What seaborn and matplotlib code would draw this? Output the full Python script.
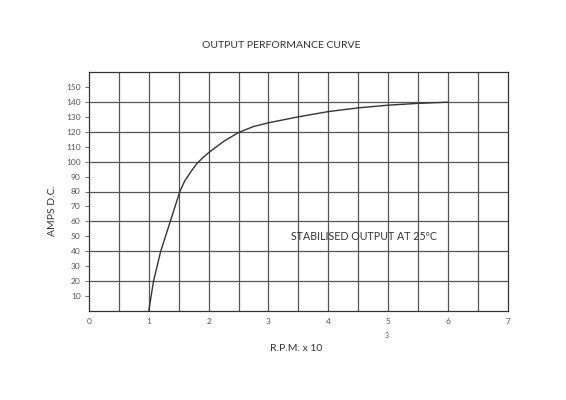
import matplotlib
matplotlib.use("Agg")
import matplotlib.pyplot as plt
import seaborn as sns
import pandas as pd
import numpy as np

# values
rpm = [1.0, 1.04, 1.08, 1.2, 1.36, 1.44, 1.52, 1.6, 1.7, 1.8, 1.9, 2.0, 2.1, 2.25,
       2.5, 2.75, 3.0, 3.5, 4.0, 4.5, 5.0, 5.5, 6.0]
amps = [0, 10, 20, 40, 60, 70, 80, 87, 93, 98.5, 102.5, 106, 109, 113.5,
        119.5, 123.5, 126, 130, 133.5, 136, 137.8, 139, 139.8]

xticks = [0, 1, 2, 3, 4, 5, 6, 7]
yticks = [10, 20, 30, 40, 50, 60, 70, 80, 90, 100, 110, 120, 130, 140, 150]

da = pd.DataFrame({"rpm": rpm, "amps": amps})

sns.set_style("white")
plt.rcParams["font.family"] = ["Lato", "DejaVu Sans"]

fig = plt.figure(figsize=(5.66, 4.0), dpi=100)
ax = fig.add_axes([0.157, 0.2225, 0.7405, 0.5975])

sns.lineplot(data=da, x="rpm", y="amps", ax=ax, color="#333333", linewidth=1.0)

ax.set_xlim(0, 7)
ax.set_ylim(0, 160)

# grid: verticals every 0.5, horizontals every 20
for v in np.arange(0.5, 7, 0.5):
    ax.axvline(v, color="#555555", linewidth=0.9, zorder=0)
for h in range(20, 160, 20):
    ax.axhline(h, color="#555555", linewidth=0.9, zorder=0)

ax.set_xticks(xticks)
ax.set_xticklabels([str(t) for t in xticks], fontsize=6, color="#555555")
ax.set_yticks(yticks)
ax.set_yticklabels([str(t) for t in yticks], fontsize=6, color="#555555")
ax.tick_params(axis="y", length=3, width=0.6, color="#555555", pad=3, left=True)
ax.tick_params(axis="x", length=0, pad=5)

for s in ax.spines.values():
    s.set_color("#333333")
    s.set_linewidth(0.9)

ax.set_xlabel("")
ax.set_ylabel("")

fig.text(0.497, 0.887, "OUTPUT PERFORMANCE CURVE", ha="center", va="center",
         fontsize=7.5, color="#333333")
fig.text(0.092, 0.475, "AMPS D.C.", rotation=90, ha="center", va="center",
         fontsize=7.5, color="#333333")
fig.text(0.477, 0.128, "R.P.M. x 10", ha="left", va="center",
         fontsize=7.5, color="#333333")
fig.text(0.684, 0.162, "3", ha="center", va="center", fontsize=5, color="#555555")
ax.text(4.6, 50, "STABILISED OUTPUT AT 25ºC", ha="center", va="center",
        fontsize=7.7, color="#333333")

fig.savefig("out.png", dpi=100, facecolor="white")
